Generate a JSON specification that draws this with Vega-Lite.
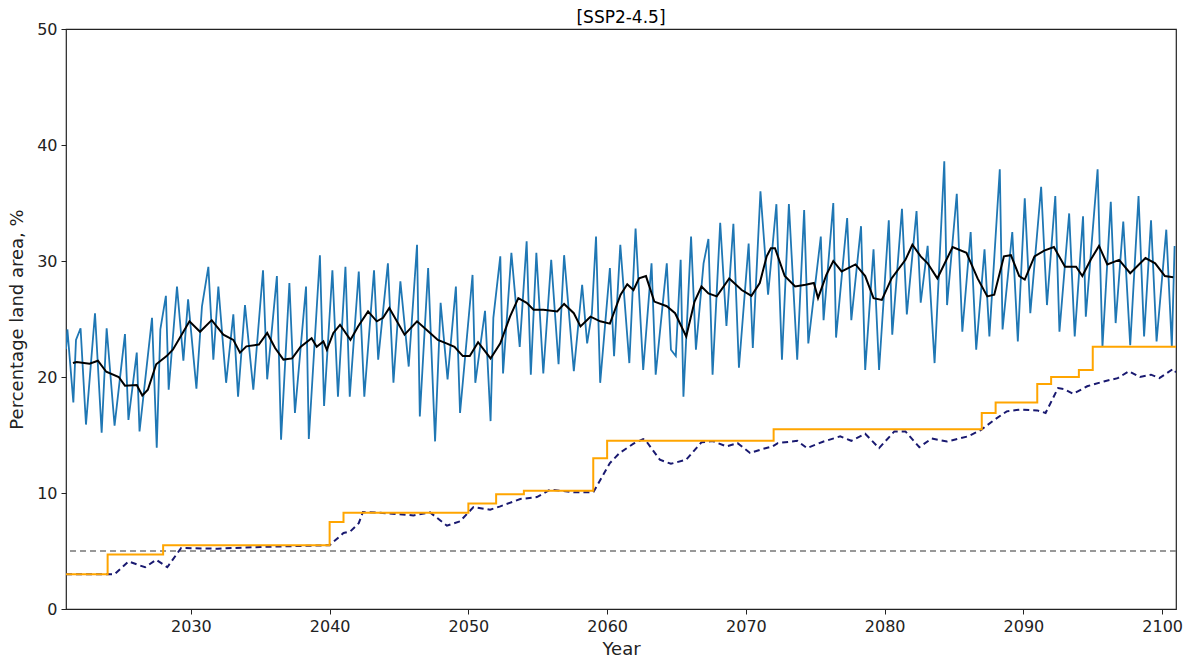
{
"$schema": "https://vega.github.io/schema/vega-lite/v6.json",
"width": 1110,
"height": 580,
"autosize": {"type": "none"},
"padding": {"left": 66, "top": 29, "right": 18, "bottom": 56},
"title": {"text": "[SSP2-4.5]", "fontSize": 17, "fontWeight": "normal", "font": "DejaVu Sans", "color": "#000", "offset": -6},
"config": {
  "font": "DejaVu Sans",
  "view": {"stroke": "#222", "strokeWidth": 1.2},
  "axis": {"grid": false, "domain": false, "labelFontSize": 16, "titleFontSize": 18, "titleFontWeight": "normal", "labelColor": "#222", "titleColor": "#222", "tickColor": "#222", "tickSize": 5, "labelPadding": 4}
},
"datasets": {
  "blue": [
{"x":2021.0,"y":22.4},{"x":2021.1,"y":24.1},{"x":2021.53,"y":17.8},{"x":2021.72,"y":23.2},{"x":2022.05,"y":24.2},{"x":2022.44,"y":15.9},{"x":2023.09,"y":25.5},{"x":2023.57,"y":15.2},{"x":2023.93,"y":24.2},{"x":2024.5,"y":15.8},{"x":2025.25,"y":23.7},{"x":2025.5,"y":16.3},{"x":2026.1,"y":22.1},{"x":2026.3,"y":15.3},{"x":2027.2,"y":25.1},{"x":2027.54,"y":13.9},{"x":2027.8,"y":24.1},{"x":2028.2,"y":27.0},{"x":2028.4,"y":18.9},{"x":2029.0,"y":27.8},{"x":2029.46,"y":21.4},{"x":2029.8,"y":26.7},{"x":2030.4,"y":19.0},{"x":2030.8,"y":26.1},{"x":2031.26,"y":29.5},{"x":2031.62,"y":21.5},{"x":2031.98,"y":27.8},{"x":2032.54,"y":19.5},{"x":2033.06,"y":25.4},{"x":2033.4,"y":18.3},{"x":2033.9,"y":26.2},{"x":2034.5,"y":18.9},{"x":2035.2,"y":29.2},{"x":2035.5,"y":19.8},{"x":2036.2,"y":28.7},{"x":2036.5,"y":14.6},{"x":2037.1,"y":28.1},{"x":2037.5,"y":16.9},{"x":2038.3,"y":27.8},{"x":2038.5,"y":14.65},{"x":2039.3,"y":30.5},{"x":2039.6,"y":17.5},{"x":2040.2,"y":29.2},{"x":2040.6,"y":18.3},{"x":2041.14,"y":29.5},{"x":2041.45,"y":18.3},{"x":2042.1,"y":29.1},{"x":2042.5,"y":18.3},{"x":2043.2,"y":29.2},{"x":2043.5,"y":21.5},{"x":2044.2,"y":29.8},{"x":2044.6,"y":19.5},{"x":2045.1,"y":28.25},{"x":2045.7,"y":20.9},{"x":2046.3,"y":31.4},{"x":2046.5,"y":16.6},{"x":2047.1,"y":29.4},{"x":2047.6,"y":14.45},{"x":2048.0,"y":26.4},{"x":2048.5,"y":19.8},{"x":2049.1,"y":27.8},{"x":2049.4,"y":16.9},{"x":2050.3,"y":28.8},{"x":2050.5,"y":19.5},{"x":2051.2,"y":25.7},{"x":2051.6,"y":16.2},{"x":2051.8,"y":25.1},{"x":2052.3,"y":30.4},{"x":2052.5,"y":20.3},{"x":2053.1,"y":30.7},{"x":2053.7,"y":22.6},{"x":2054.2,"y":31.7},{"x":2054.5,"y":20.2},{"x":2054.9,"y":30.7},{"x":2055.4,"y":20.3},{"x":2055.97,"y":30.1},{"x":2056.5,"y":21.1},{"x":2056.9,"y":30.5},{"x":2057.6,"y":20.5},{"x":2058.2,"y":27.95},{"x":2058.56,"y":22.9},{"x":2058.9,"y":25.5},{"x":2059.2,"y":32.1},{"x":2059.5,"y":19.5},{"x":2060.2,"y":29.4},{"x":2060.5,"y":21.8},{"x":2060.95,"y":31.4},{"x":2061.6,"y":21.2},{"x":2062.05,"y":32.8},{"x":2062.6,"y":20.6},{"x":2063.2,"y":29.8},{"x":2063.5,"y":20.2},{"x":2064.3,"y":29.8},{"x":2064.6,"y":22.35},{"x":2064.95,"y":21.8},{"x":2065.3,"y":30.1},{"x":2065.5,"y":18.3},{"x":2066.05,"y":32.1},{"x":2066.4,"y":22.35},{"x":2066.95,"y":29.8},{"x":2067.3,"y":31.9},{"x":2067.6,"y":20.2},{"x":2068.15,"y":33.3},{"x":2068.6,"y":24.4},{"x":2069.1,"y":33.2},{"x":2069.5,"y":20.8},{"x":2070.2,"y":31.5},{"x":2070.5,"y":22.5},{"x":2071.05,"y":36.0},{"x":2071.6,"y":27.1},{"x":2072.2,"y":34.9},{"x":2072.6,"y":21.5},{"x":2073.1,"y":34.9},{"x":2073.7,"y":21.5},{"x":2074.2,"y":34.4},{"x":2074.5,"y":22.9},{"x":2075.4,"y":32.1},{"x":2075.6,"y":24.9},{"x":2076.3,"y":35.0},{"x":2076.5,"y":23.4},{"x":2077.3,"y":33.7},{"x":2077.6,"y":24.9},{"x":2078.3,"y":33.0},{"x":2078.6,"y":20.6},{"x":2079.2,"y":31.0},{"x":2079.6,"y":20.6},{"x":2080.3,"y":33.5},{"x":2080.55,"y":23.65},{"x":2081.25,"y":34.5},{"x":2081.6,"y":25.4},{"x":2082.3,"y":34.3},{"x":2082.6,"y":26.4},{"x":2083.1,"y":31.3},{"x":2083.6,"y":21.2},{"x":2084.3,"y":38.6},{"x":2084.5,"y":26.2},{"x":2085.2,"y":35.8},{"x":2085.6,"y":23.9},{"x":2086.2,"y":32.5},{"x":2086.6,"y":22.35},{"x":2087.2,"y":31.0},{"x":2087.55,"y":23.5},{"x":2088.3,"y":37.9},{"x":2088.5,"y":24.1},{"x":2089.2,"y":32.5},{"x":2089.6,"y":23.07},{"x":2090.1,"y":35.4},{"x":2090.5,"y":25.5},{"x":2091.28,"y":36.4},{"x":2091.7,"y":26.2},{"x":2092.3,"y":35.6},{"x":2092.6,"y":23.9},{"x":2093.3,"y":34.1},{"x":2093.7,"y":23.5},{"x":2094.3,"y":33.85},{"x":2094.5,"y":25.2},{"x":2095.35,"y":37.9},{"x":2095.7,"y":22.6},{"x":2096.3,"y":35.1},{"x":2096.65,"y":24.65},{"x":2097.2,"y":33.4},{"x":2097.7,"y":22.75},{"x":2098.3,"y":35.6},{"x":2098.7,"y":23.5},{"x":2099.2,"y":33.5},{"x":2099.6,"y":23.07},{"x":2100.3,"y":32.7},{"x":2100.7,"y":22.6},{"x":2100.9,"y":31.3}
  ],
  "mean": [
{"x":2021.5,"y":21.2},{"x":2021.77,"y":21.3},{"x":2022.7,"y":21.15},{"x":2023.3,"y":21.4},{"x":2023.9,"y":20.45},{"x":2024.8,"y":20.0},{"x":2025.25,"y":19.25},{"x":2026.1,"y":19.3},{"x":2026.5,"y":18.4},{"x":2026.9,"y":18.9},{"x":2027.5,"y":21.1},{"x":2028.25,"y":21.8},{"x":2028.7,"y":22.35},{"x":2029.46,"y":23.9},{"x":2029.9,"y":24.8},{"x":2030.66,"y":23.9},{"x":2031.5,"y":24.9},{"x":2032.34,"y":23.65},{"x":2033.06,"y":23.2},{"x":2033.54,"y":22.1},{"x":2034.0,"y":22.64},{"x":2034.9,"y":22.8},{"x":2035.5,"y":23.8},{"x":2036.07,"y":22.5},{"x":2036.67,"y":21.5},{"x":2037.3,"y":21.6},{"x":2037.9,"y":22.6},{"x":2038.7,"y":23.35},{"x":2039.07,"y":22.6},{"x":2039.55,"y":23.07},{"x":2039.8,"y":22.35},{"x":2040.27,"y":23.8},{"x":2040.75,"y":24.5},{"x":2041.5,"y":23.2},{"x":2042.05,"y":24.36},{"x":2042.77,"y":25.65},{"x":2043.4,"y":24.8},{"x":2043.85,"y":25.1},{"x":2044.3,"y":25.95},{"x":2045.4,"y":23.65},{"x":2046.3,"y":24.8},{"x":2047.1,"y":23.94},{"x":2047.8,"y":23.2},{"x":2048.42,"y":22.9},{"x":2049.0,"y":22.6},{"x":2049.6,"y":21.8},{"x":2050.1,"y":21.8},{"x":2050.7,"y":23.0},{"x":2051.6,"y":21.6},{"x":2052.3,"y":22.9},{"x":2053.0,"y":25.2},{"x":2053.6,"y":26.8},{"x":2054.2,"y":26.4},{"x":2054.7,"y":25.8},{"x":2055.4,"y":25.8},{"x":2056.4,"y":25.65},{"x":2056.9,"y":26.3},{"x":2057.6,"y":25.5},{"x":2058.08,"y":24.36},{"x":2058.8,"y":25.2},{"x":2059.5,"y":24.8},{"x":2060.2,"y":24.6},{"x":2060.97,"y":27.1},{"x":2061.45,"y":28.0},{"x":2061.9,"y":27.5},{"x":2062.3,"y":28.5},{"x":2062.8,"y":28.7},{"x":2063.4,"y":26.5},{"x":2064.3,"y":26.1},{"x":2064.9,"y":25.5},{"x":2065.7,"y":23.5},{"x":2066.3,"y":26.5},{"x":2066.8,"y":27.8},{"x":2067.3,"y":27.2},{"x":2067.9,"y":26.95},{"x":2068.8,"y":28.5},{"x":2069.7,"y":27.5},{"x":2070.4,"y":27.0},{"x":2071.0,"y":28.1},{"x":2071.5,"y":30.4},{"x":2071.8,"y":31.1},{"x":2072.1,"y":31.1},{"x":2072.8,"y":28.7},{"x":2073.55,"y":27.8},{"x":2074.3,"y":27.95},{"x":2074.9,"y":28.1},{"x":2075.2,"y":26.8},{"x":2075.8,"y":28.8},{"x":2076.3,"y":30.0},{"x":2076.9,"y":29.1},{"x":2077.9,"y":29.7},{"x":2078.6,"y":28.7},{"x":2079.2,"y":26.8},{"x":2079.8,"y":26.65},{"x":2080.5,"y":28.5},{"x":2081.5,"y":30.1},{"x":2082.0,"y":31.4},{"x":2082.6,"y":30.4},{"x":2083.1,"y":29.8},{"x":2083.8,"y":28.5},{"x":2084.9,"y":31.2},{"x":2085.9,"y":30.7},{"x":2086.7,"y":28.5},{"x":2087.4,"y":26.95},{"x":2087.9,"y":27.1},{"x":2088.6,"y":30.4},{"x":2089.1,"y":30.5},{"x":2089.7,"y":28.7},{"x":2090.1,"y":28.4},{"x":2090.8,"y":30.4},{"x":2091.5,"y":30.9},{"x":2092.2,"y":31.2},{"x":2093.0,"y":29.5},{"x":2093.8,"y":29.5},{"x":2094.25,"y":28.7},{"x":2094.85,"y":30.1},{"x":2095.45,"y":31.3},{"x":2096.05,"y":29.7},{"x":2096.9,"y":30.1},{"x":2097.7,"y":28.95},{"x":2098.8,"y":30.25},{"x":2099.5,"y":29.8},{"x":2100.2,"y":28.7},{"x":2100.8,"y":28.6}
  ],
  "navy": [
{"x":2021.0,"y":3.0},{"x":2024.5,"y":3.0},{"x":2025.5,"y":4.1},{"x":2026.7,"y":3.6},{"x":2027.5,"y":4.25},{"x":2028.3,"y":3.6},{"x":2029.3,"y":5.26},{"x":2031.9,"y":5.2},{"x":2035.0,"y":5.35},{"x":2040.0,"y":5.5},{"x":2041.0,"y":6.55},{"x":2041.5,"y":6.7},{"x":2042.1,"y":7.4},{"x":2042.4,"y":8.36},{"x":2043.64,"y":8.3},{"x":2046.04,"y":8.07},{"x":2047.24,"y":8.33},{"x":2048.45,"y":7.18},{"x":2049.4,"y":7.56},{"x":2050.37,"y":8.79},{"x":2051.57,"y":8.56},{"x":2052.3,"y":8.85},{"x":2053.74,"y":9.48},{"x":2054.94,"y":9.65},{"x":2055.9,"y":10.3},{"x":2057.58,"y":10.06},{"x":2059.0,"y":10.06},{"x":2060.2,"y":12.58},{"x":2060.9,"y":13.45},{"x":2061.9,"y":14.25},{"x":2062.6,"y":14.65},{"x":2062.8,"y":14.5},{"x":2063.8,"y":12.87},{"x":2064.6,"y":12.52},{"x":2065.7,"y":12.87},{"x":2066.8,"y":14.37},{"x":2067.6,"y":14.48},{"x":2068.6,"y":14.02},{"x":2069.4,"y":14.3},{"x":2070.3,"y":13.45},{"x":2071.2,"y":13.79},{"x":2071.9,"y":14.0},{"x":2072.3,"y":14.3},{"x":2073.7,"y":14.5},{"x":2074.4,"y":13.87},{"x":2075.6,"y":14.44},{"x":2076.8,"y":14.88},{"x":2077.6,"y":14.5},{"x":2078.6,"y":15.1},{"x":2079.6,"y":13.87},{"x":2080.7,"y":15.31},{"x":2081.5,"y":15.31},{"x":2082.5,"y":13.95},{"x":2083.4,"y":14.7},{"x":2084.5,"y":14.44},{"x":2086.0,"y":14.88},{"x":2086.9,"y":15.4},{"x":2087.9,"y":16.3},{"x":2088.8,"y":17.04},{"x":2089.8,"y":17.2},{"x":2091.0,"y":17.12},{"x":2091.6,"y":16.9},{"x":2092.5,"y":19.05},{"x":2092.9,"y":18.97},{"x":2093.6,"y":18.55},{"x":2094.6,"y":19.2},{"x":2095.8,"y":19.62},{"x":2096.8,"y":19.9},{"x":2097.6,"y":20.5},{"x":2098.4,"y":20.0},{"x":2099.2,"y":20.2},{"x":2099.8,"y":19.9},{"x":2100.8,"y":20.7},{"x":2101.0,"y":20.4}
  ],
  "orange": [
{"x":2021,"y":3.0},{"x":2024,"y":4.7},{"x":2028,"y":5.5},{"x":2040,"y":7.5},{"x":2041,"y":8.3},{"x":2050,"y":9.1},{"x":2052,"y":9.9},{"x":2054,"y":10.2},{"x":2059,"y":13.0},{"x":2060,"y":14.5},{"x":2072,"y":15.5},{"x":2087,"y":16.9},{"x":2088,"y":17.8},{"x":2091,"y":19.4},{"x":2092,"y":20.0},{"x":2094,"y":20.6},{"x":2095,"y":22.6},{"x":2101,"y":22.6}
  ],
  "threshold": [{"y":5}]
},
"layer": [
  {
    "data": {"name": "blue"},
    "mark": {"type": "line", "color": "#1f77b4", "strokeWidth": 1.8, "clip": true},
    "encoding": {
      "x": {"field": "x", "type": "quantitative", "scale": {"domain": [2021, 2101], "nice": false, "zero": false}, "axis": {"title": "Year", "values": [2030, 2040, 2050, 2060, 2070, 2080, 2090, 2100], "format": "d", "titlePadding": 6}},
      "y": {"field": "y", "type": "quantitative", "scale": {"domain": [0, 50], "nice": false}, "axis": {"title": "Percentage land area, %", "values": [0, 10, 20, 30, 40, 50], "titlePadding": 10}}
    }
  },
  {
    "data": {"name": "mean"},
    "mark": {"type": "line", "color": "#000000", "strokeWidth": 2, "clip": true},
    "encoding": {"x": {"field": "x", "type": "quantitative"}, "y": {"field": "y", "type": "quantitative"}}
  },
  {
    "data": {"name": "threshold"},
    "mark": {"type": "rule", "color": "#777777", "strokeWidth": 1.6, "strokeDash": [6, 4]},
    "encoding": {"y": {"field": "y", "type": "quantitative"}}
  },
  {
    "data": {"name": "navy"},
    "mark": {"type": "line", "color": "#191970", "strokeWidth": 2, "strokeDash": [6, 4], "clip": true},
    "encoding": {"x": {"field": "x", "type": "quantitative"}, "y": {"field": "y", "type": "quantitative"}}
  },
  {
    "data": {"name": "orange"},
    "mark": {"type": "line", "color": "#FFA500", "strokeWidth": 2, "interpolate": "step-after", "clip": true},
    "encoding": {"x": {"field": "x", "type": "quantitative"}, "y": {"field": "y", "type": "quantitative"}}
  }
]
}
